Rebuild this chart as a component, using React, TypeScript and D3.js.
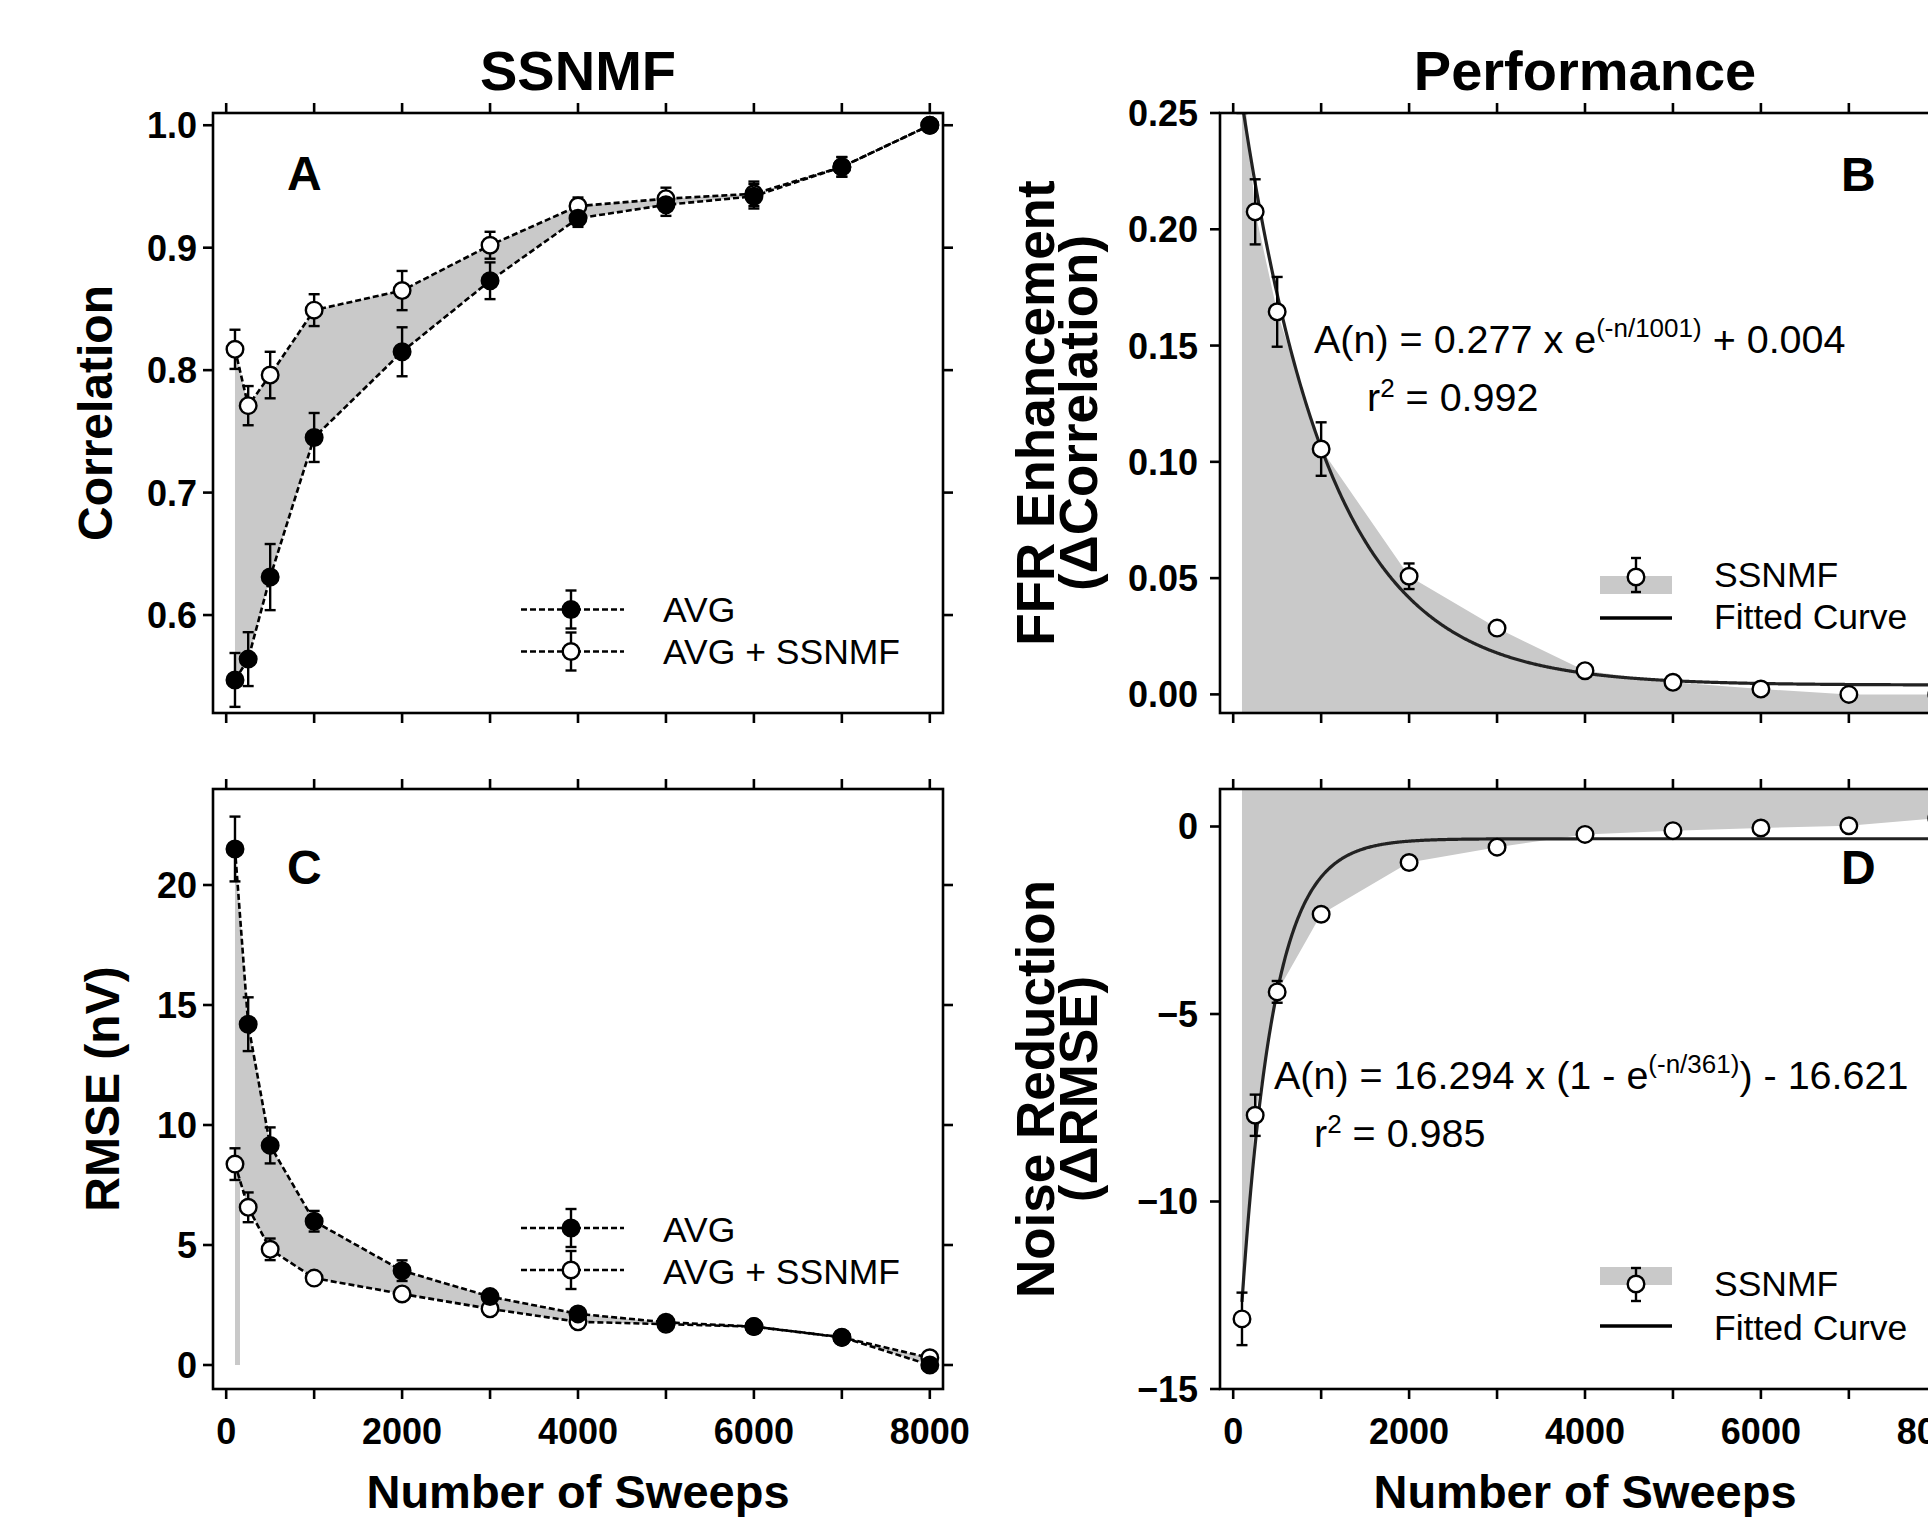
import React, { useLayoutEffect } from 'react';
import * as d3 from 'd3';

// ---------------- data ----------------
const SWEEPS = [100, 250, 500, 1000, 2000, 3000, 4000, 5000, 6000, 7000, 8000];

// Panel A: correlation
const CORR_AVG = [0.547, 0.564, 0.631, 0.745, 0.815, 0.873, 0.924, 0.935, 0.942, 0.966, 1.0];
const CORR_AVG_ERR = [0.022, 0.022, 0.027, 0.02, 0.02, 0.015, 0.007, 0.009, 0.01, 0.008, 0];
const CORR_SSNMF = [0.817, 0.771, 0.796, 0.849, 0.865, 0.902, 0.934, 0.94, 0.944, 0.966, 1.0];
const CORR_SSNMF_ERR = [0.016, 0.016, 0.019, 0.013, 0.016, 0.011, 0.007, 0.009, 0.01, 0.008, 0];

// Panel C: RMSE (nV)
const RMSE_AVG = [21.5, 14.2, 9.15, 5.99, 3.93, 2.85, 2.13, 1.78, 1.6, 1.16, 0.0];
const RMSE_AVG_ERR = [1.35, 1.12, 0.75, 0.43, 0.43, 0.2, 0.15, 0.12, 0.1, 0.08, 0];
const RMSE_SSNMF = [8.37, 6.57, 4.82, 3.62, 2.96, 2.34, 1.8, 1.7, 1.6, 1.15, 0.3];
const RMSE_SSNMF_ERR = [0.66, 0.62, 0.45, 0.2, 0.25, 0.15, 0.1, 0.1, 0.1, 0.08, 0];

// Panel B: delta correlation
const DELTA_CORR = [0.27, 0.2075, 0.1645, 0.1055, 0.0508, 0.0285, 0.0102, 0.0052, 0.0023, 0.0, 0.0];
const DELTA_CORR_ERR = [0.02, 0.014, 0.015, 0.0115, 0.0055, 0.002, 0.001, 0.001, 0.001, 0.001, 0];

// Panel D: delta RMSE
const DELTA_RMSE = [-13.13, -7.7, -4.41, -2.34, -0.96, -0.55, -0.21, -0.11, -0.04, 0.02, 0.22];
const DELTA_RMSE_ERR = [0.7, 0.55, 0.29, 0.1, 0.05, 0.05, 0.05, 0.05, 0.05, 0.05, 0];

// Fitted curves as printed on the chart
const FIT_CORR = { a: 0.277, tau: 1001, c: 0.004 }; // A(n) = a*e^(-n/tau) + c
const FIT_RMSE = { a: 16.294, tau: 361, c: -16.621 }; // A(n) = a*(1-e^(-n/tau)) + c

const X_TICKS = [0, 1000, 2000, 3000, 4000, 5000, 6000, 7000, 8000];
const X_TICK_LABELS = [0, 2000, 4000, 6000, 8000];
const CORR_TICKS = [0.6, 0.7, 0.8, 0.9, 1.0];
const RMSE_TICKS = [0, 5, 10, 15, 20];
const DCORR_TICKS = [0, 0.05, 0.1, 0.15, 0.2, 0.25];
const DRMSE_TICKS = [0, -5, -10, -15];

// ---------------- layout ----------------
const FONT = "'Liberation Sans', Arial, Helvetica, sans-serif";
const GRAY = '#c9c9c9';
const PW = 730;
const PH = 600;
const LEFT_X = 213;
const RIGHT_X = 1220;
const TOP_Y = 113;
const BOT_Y = 789;
const X_DOMAIN: [number, number] = [-150, 8150];
const R = 8.3;
const SW = 2.4;

const makeX = (left: number) => d3.scaleLinear().domain(X_DOMAIN).range([left, left + PW]);
const makeY = (top: number, dom: [number, number]) => d3.scaleLinear().domain(dom).range([top + PH, top]);

type Sc = d3.ScaleLinear<number, number>;

function Axes({ x, y, left, top, yTicks, fmt, gap, showX }: { x: Sc; y: Sc; left: number; top: number; yTicks: number[]; fmt: (v: number) => string; gap: number; showX: boolean }) {
  const right = left + PW;
  const bottom = top + PH;
  const T = 10;
  return (
    <g>
      <g stroke="#000" strokeWidth={2.6} fill="none">
        <rect x={left} y={top} width={PW} height={PH} />
        {X_TICKS.map((t) => (
          <g key={t}>
            <line x1={x(t)} x2={x(t)} y1={top} y2={top - T} />
            <line x1={x(t)} x2={x(t)} y1={bottom} y2={bottom + T} />
          </g>
        ))}
        {yTicks.map((t) => (
          <g key={t}>
            <line x1={left} x2={left - T} y1={y(t)} y2={y(t)} />
            <line x1={right} x2={right + T} y1={y(t)} y2={y(t)} />
          </g>
        ))}
      </g>
      <g fontWeight="bold" fontSize={36} fill="#000">
        {yTicks.map((t) => (
          <text key={t} x={left - gap} y={y(t)} dy="0.36em" textAnchor="end">
            {fmt(t)}
          </text>
        ))}
        {showX &&
          X_TICK_LABELS.map((t) => (
            <text key={t} x={x(t)} y={bottom + 55} textAnchor="middle">
              {t}
            </text>
          ))}
      </g>
    </g>
  );
}

function ErrBars({ x, y, vals, errs, w = 5.5 }: { x: Sc; y: Sc; vals: number[]; errs: number[]; w?: number }) {
  return (
    <g stroke="#000" strokeWidth={SW}>
      {SWEEPS.map((n, i) => {
        const e = errs[i];
        if (!e) return null;
        const cx = x(n);
        const y1 = y(vals[i] + e);
        const y2 = y(vals[i] - e);
        return (
          <g key={n}>
            <line x1={cx} x2={cx} y1={y1} y2={y2} />
            <line x1={cx - w} x2={cx + w} y1={y1} y2={y1} />
            <line x1={cx - w} x2={cx + w} y1={y2} y2={y2} />
          </g>
        );
      })}
    </g>
  );
}

function Markers({ x, y, vals, filled }: { x: Sc; y: Sc; vals: number[]; filled: boolean }) {
  return (
    <g fill={filled ? '#000' : '#fff'} stroke="#000" strokeWidth={SW}>
      {SWEEPS.map((n, i) => (
        <circle key={n} cx={x(n)} cy={y(vals[i])} r={R} />
      ))}
    </g>
  );
}

function DashedLine({ x, y, vals }: { x: Sc; y: Sc; vals: number[] }) {
  const line = d3
    .line<number>()
    .x((_, i) => x(SWEEPS[i]))
    .y((v) => y(v));
  return <path d={line(vals) || ''} fill="none" stroke="#000" strokeWidth={2.6} strokeDasharray="6,3" />;
}

function LegendAvg({ rows, textY }: { rows: number[]; textY: number[] }) {
  const lx1 = 521;
  const lx2 = 624;
  const mx = 571;
  const items = ['AVG', 'AVG + SSNMF'];
  return (
    <g>
      {rows.map((ry, i) => (
        <g key={i}>
          <line x1={lx1} x2={lx2} y1={ry} y2={ry} stroke="#000" strokeWidth={2.6} strokeDasharray="6,3" />
          <g stroke="#000" strokeWidth={SW}>
            <line x1={mx} x2={mx} y1={ry - 19} y2={ry + 19} />
            <line x1={mx - 5.5} x2={mx + 5.5} y1={ry - 19} y2={ry - 19} />
            <line x1={mx - 5.5} x2={mx + 5.5} y1={ry + 19} y2={ry + 19} />
          </g>
          <circle cx={mx} cy={ry} r={R} fill={i === 0 ? '#000' : '#fff'} stroke="#000" strokeWidth={SW} />
          <text x={663} y={textY[i]} fontSize={35.5}>
            {items[i]}
          </text>
        </g>
      ))}
    </g>
  );
}

function LegendFit({ rectY, barTop, barBot, circY, textY1, textY2, lineY }: { rectY: number; barTop: number; barBot: number; circY: number; textY1: number; textY2: number; lineY: number }) {
  const cx = 1636;
  return (
    <g>
      <rect x={1600} y={rectY} width={72} height={18} fill={GRAY} />
      <g stroke="#000" strokeWidth={SW}>
        <line x1={cx} x2={cx} y1={barTop} y2={barBot} />
        <line x1={cx - 5} x2={cx + 5} y1={barTop} y2={barTop} />
        <line x1={cx - 5} x2={cx + 5} y1={barBot} y2={barBot} />
      </g>
      <circle cx={cx} cy={circY} r={R} fill="#fff" stroke="#000" strokeWidth={SW} />
      <line x1={1600} x2={1672} y1={lineY} y2={lineY} stroke="#000" strokeWidth={3.6} />
      <text x={1714} y={textY1} fontSize={35.5}>
        SSNMF
      </text>
      <text x={1714} y={textY2} fontSize={35.5}>
        Fitted Curve
      </text>
    </g>
  );
}

export default function App() {
  useLayoutEffect(() => {
    document.body.style.margin = '0';
    document.body.style.overflow = 'hidden';
  }, []);

  // scales
  const xL = makeX(LEFT_X);
  const xR = makeX(RIGHT_X);
  const yA = makeY(TOP_Y, [0.52, 1.01]);
  const yC = makeY(BOT_Y, [-1, 24]);
  const yB = makeY(TOP_Y, [-0.008, 0.25]);
  const yD = makeY(BOT_Y, [-15, 1]);

  const fmt1 = d3.format('.1f');
  const fmt2 = d3.format('.2f');
  const fmt0 = d3.format('d');

  // fills between curves (A, C)
  const areaBetween = (x: Sc, y: Sc, a: number[], b: number[]) =>
    d3
      .area<number>()
      .x((_, i) => x(SWEEPS[i]))
      .y0((_, i) => y(a[i]))
      .y1((_, i) => y(b[i]))(SWEEPS) || '';

  const areaB =
    d3
      .area<number>()
      .x((_, i) => xR(SWEEPS[i]))
      .y0(TOP_Y + PH)
      .y1((v) => yB(v))(DELTA_CORR) || '';
  const areaD =
    d3
      .area<number>()
      .x((_, i) => xR(SWEEPS[i]))
      .y0(BOT_Y)
      .y1((v) => yD(v))(DELTA_RMSE) || '';

  const curveN = d3.range(SWEEPS[0], X_DOMAIN[1] + 1, 10);
  const fitB =
    d3
      .line<number>()
      .x((n) => xR(n))
      .y((n) => yB(FIT_CORR.a * Math.exp(-n / FIT_CORR.tau) + FIT_CORR.c))(curveN) || '';
  const fitD =
    d3
      .line<number>()
      .x((n) => xR(n))
      .y((n) => yD(FIT_RMSE.a * (1 - Math.exp(-n / FIT_RMSE.tau)) + FIT_RMSE.c))(curveN) || '';

  return (
    <svg width={1928} height={1517} style={{ display: 'block' }} fontFamily={FONT}>
      <rect width={1928} height={1517} fill="#fff" />
      <defs>
        <clipPath id="clipA">
          <rect x={LEFT_X} y={TOP_Y} width={PW} height={PH} />
        </clipPath>
        <clipPath id="clipB">
          <rect x={RIGHT_X} y={TOP_Y} width={PW} height={PH} />
        </clipPath>
        <clipPath id="clipC">
          <rect x={LEFT_X} y={BOT_Y} width={PW} height={PH} />
        </clipPath>
        <clipPath id="clipD">
          <rect x={RIGHT_X} y={BOT_Y} width={PW} height={PH} />
        </clipPath>
      </defs>

      {/* titles */}
      <text x={LEFT_X + PW / 2} y={90} fontSize={56} fontWeight="bold" textAnchor="middle">
        SSNMF
      </text>
      <text x={RIGHT_X + PW / 2} y={90} fontSize={56} fontWeight="bold" textAnchor="middle">
        Performance
      </text>

      {/* ---------- Panel A ---------- */}
      <g clipPath="url(#clipA)">
        <path d={areaBetween(xL, yA, CORR_SSNMF, CORR_AVG)} fill={GRAY} />
        <DashedLine x={xL} y={yA} vals={CORR_AVG} />
        <DashedLine x={xL} y={yA} vals={CORR_SSNMF} />
        <ErrBars x={xL} y={yA} vals={CORR_AVG} errs={CORR_AVG_ERR} />
        <ErrBars x={xL} y={yA} vals={CORR_SSNMF} errs={CORR_SSNMF_ERR} />
        <Markers x={xL} y={yA} vals={CORR_SSNMF} filled={false} />
        <Markers x={xL} y={yA} vals={CORR_AVG} filled={true} />
      </g>
      <Axes x={xL} y={yA} left={LEFT_X} top={TOP_Y} yTicks={CORR_TICKS} fmt={fmt1} gap={16} showX={false} />
      <text x={287} y={190} fontSize={48} fontWeight="bold">
        A
      </text>
      <LegendAvg rows={[609.5, 651.5]} textY={[622, 664]} />
      <text transform={`translate(112,${TOP_Y + PH / 2}) rotate(-90)`} fontSize={48} fontWeight="bold" textAnchor="middle">
        Correlation
      </text>

      {/* ---------- Panel C ---------- */}
      <g clipPath="url(#clipC)">
        <path d={areaBetween(xL, yC, RMSE_SSNMF, RMSE_AVG)} fill={GRAY} />
        <rect x={xL(SWEEPS[0])} width={5} y={yC(RMSE_SSNMF[0])} height={yC(0) - yC(RMSE_SSNMF[0])} fill={GRAY} />
        <DashedLine x={xL} y={yC} vals={RMSE_AVG} />
        <DashedLine x={xL} y={yC} vals={RMSE_SSNMF} />
        <ErrBars x={xL} y={yC} vals={RMSE_AVG} errs={RMSE_AVG_ERR} />
        <ErrBars x={xL} y={yC} vals={RMSE_SSNMF} errs={RMSE_SSNMF_ERR} />
        <Markers x={xL} y={yC} vals={RMSE_SSNMF} filled={false} />
        <Markers x={xL} y={yC} vals={RMSE_AVG} filled={true} />
      </g>
      <Axes x={xL} y={yC} left={LEFT_X} top={BOT_Y} yTicks={RMSE_TICKS} fmt={fmt0} gap={16} showX={true} />
      <text x={287} y={884} fontSize={48} fontWeight="bold">
        C
      </text>
      <LegendAvg rows={[1228, 1270]} textY={[1241.5, 1284]} />
      <text transform={`translate(119,${BOT_Y + PH / 2}) rotate(-90)`} fontSize={48} fontWeight="bold" textAnchor="middle">
        RMSE (nV)
      </text>
      <text x={LEFT_X + PW / 2} y={1508} fontSize={47} fontWeight="bold" textAnchor="middle">
        Number of Sweeps
      </text>

      {/* ---------- Panel B ---------- */}
      <g clipPath="url(#clipB)">
        <path d={areaB} fill={GRAY} />
        <path d={fitB} fill="none" stroke="#222" strokeWidth={3.2} />
        <ErrBars x={xR} y={yB} vals={DELTA_CORR} errs={DELTA_CORR_ERR} />
        <Markers x={xR} y={yB} vals={DELTA_CORR} filled={false} />
      </g>
      <Axes x={xR} y={yB} left={RIGHT_X} top={TOP_Y} yTicks={DCORR_TICKS} fmt={fmt2} gap={22} showX={false} />
      <text x={1841} y={191} fontSize={48} fontWeight="bold">
        B
      </text>
      <text x={1314} y={353} fontSize={39.5}>
        <tspan>A(n) = 0.277 x e</tspan>
        <tspan fontSize={26} dy={-16}>(-n/1001)</tspan>
        <tspan dy={16}> + 0.004</tspan>
      </text>
      <text x={1367} y={411} fontSize={39.5}>
        <tspan>r</tspan>
        <tspan fontSize={26} dy={-14}>2</tspan>
        <tspan dy={14}> = 0.992</tspan>
      </text>
      <LegendFit rectY={576} barTop={558} barBot={592} circY={577} textY1={587} textY2={629} lineY={618} />
      <text transform={`translate(1054,${TOP_Y + PH / 2}) rotate(-90)`} fontSize={53} fontWeight="bold" textAnchor="middle">
        FFR Enhancement
      </text>
      <text transform={`translate(1097,${TOP_Y + PH / 2}) rotate(-90)`} fontSize={53} fontWeight="bold" textAnchor="middle">
        (ΔCorrelation)
      </text>

      {/* ---------- Panel D ---------- */}
      <g clipPath="url(#clipD)">
        <path d={areaD} fill={GRAY} />
        <path d={fitD} fill="none" stroke="#222" strokeWidth={3.2} />
        <ErrBars x={xR} y={yD} vals={DELTA_RMSE} errs={DELTA_RMSE_ERR} />
        <Markers x={xR} y={yD} vals={DELTA_RMSE} filled={false} />
      </g>
      <Axes x={xR} y={yD} left={RIGHT_X} top={BOT_Y} yTicks={DRMSE_TICKS} fmt={fmt0} gap={22} showX={true} />
      <text x={1841} y={884} fontSize={48} fontWeight="bold">
        D
      </text>
      <text x={1274} y={1089} fontSize={39.5}>
        <tspan>A(n) = 16.294 x (1 - e</tspan>
        <tspan fontSize={26} dy={-16}>(-n/361)</tspan>
        <tspan dy={16}>) - 16.621</tspan>
      </text>
      <text x={1314} y={1147} fontSize={39.5}>
        <tspan>r</tspan>
        <tspan fontSize={26} dy={-14}>2</tspan>
        <tspan dy={14}> = 0.985</tspan>
      </text>
      <LegendFit rectY={1267} barTop={1268} barBot={1301} circY={1284} textY1={1296} textY2={1340} lineY={1326} />
      <text transform={`translate(1054,${BOT_Y + PH / 2}) rotate(-90)`} fontSize={53} fontWeight="bold" textAnchor="middle">
        Noise Reduction
      </text>
      <text transform={`translate(1097,${BOT_Y + PH / 2}) rotate(-90)`} fontSize={53} fontWeight="bold" textAnchor="middle">
        (ΔRMSE)
      </text>
      <text x={RIGHT_X + PW / 2} y={1508} fontSize={47} fontWeight="bold" textAnchor="middle">
        Number of Sweeps
      </text>
    </svg>
  );
}
